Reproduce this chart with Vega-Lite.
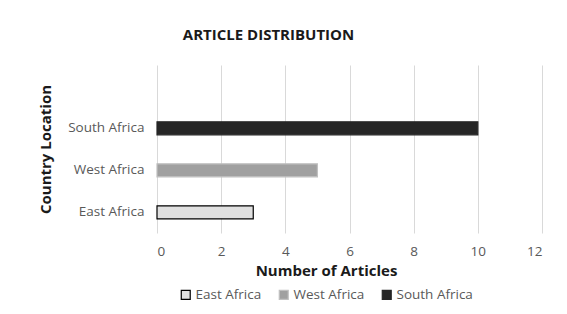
{
  "$schema": "https://vega.github.io/schema/vega-lite/v6.json",
  "width": 385,
  "height": 168,
  "autosize": "none",
  "padding": {"left": 157, "top": 65, "right": 25, "bottom": 81},
  "background": "white",
  "title": {
    "text": "ARTICLE DISTRIBUTION",
    "font": "Open Sans",
    "fontSize": 15,
    "fontWeight": "bold",
    "color": "#1a1a1a",
    "anchor": "middle",
    "dx": -81,
    "offset": 22
  },
  "data": {
    "values": [
      {"country": "South Africa", "articles": 10},
      {"country": "West Africa", "articles": 5},
      {"country": "East Africa", "articles": 3}
    ]
  },
  "mark": {"type": "bar", "strokeWidth": 1.2},
  "encoding": {
    "y": {
      "field": "country",
      "type": "nominal",
      "sort": ["South Africa", "West Africa", "East Africa"],
      "scale": {"paddingInner": 0.69, "paddingOuter": 0.845, "align": 0.8},
      "axis": {
        "title": "Country Location",
        "titleFont": "Open Sans",
        "titleFontSize": 15,
        "titleFontWeight": "bold",
        "titleColor": "#1a1a1a",
        "titlePadding": 14,
        "labelFont": "Open Sans",
        "labelFontSize": 13.5,
        "labelColor": "#595959",
        "labelPadding": 13,
        "ticks": false,
        "domain": false,
        "grid": false
      }
    },
    "x": {
      "field": "articles",
      "type": "quantitative",
      "scale": {"domain": [0, 12], "nice": false},
      "axis": {
        "values": [0, 2, 4, 6, 8, 10, 12],
        "title": "Number of Articles",
        "titleFont": "Open Sans",
        "titleFontSize": 15,
        "titleFontWeight": "bold",
        "titleColor": "#1a1a1a",
        "titlePadding": 6,
        "titleX": 169,
        "labelFont": "Open Sans",
        "labelFontSize": 13.5,
        "labelColor": "#595959",
        "labelPadding": 11,
        "ticks": false,
        "domain": false,
        "grid": true,
        "gridColor": "#d9d9d9",
        "gridWidth": 1
      }
    },
    "color": {
      "field": "country",
      "type": "nominal",
      "scale": {
        "domain": ["East Africa", "West Africa", "South Africa"],
        "range": ["#e0e0e0", "#a0a0a0", "#262626"]
      },
      "legend": {
        "title": null,
        "orient": "none",
        "legendX": 22,
        "legendY": 223,
        "direction": "horizontal",
        "symbolType": "square",
        "symbolSize": 80,
        "symbolStrokeWidth": 1.2,
        "labelFont": "Open Sans",
        "labelFontSize": 13.5,
        "labelColor": "#595959",
        "labelOffset": 3,
        "columnPadding": 14
      }
    },
    "stroke": {
      "field": "country",
      "type": "nominal",
      "scale": {
        "domain": ["East Africa", "West Africa", "South Africa"],
        "range": ["#000000", "#c0c0c0", "#262626"]
      },
      "legend": {
        "title": null,
        "orient": "none",
        "legendX": 22,
        "legendY": 223,
        "direction": "horizontal",
        "symbolType": "square",
        "symbolSize": 80,
        "labelFont": "Open Sans",
        "labelFontSize": 13.5,
        "labelColor": "#595959",
        "labelOffset": 3,
        "columnPadding": 14
      }
    }
  },
  "config": {"view": {"stroke": null}}
}
